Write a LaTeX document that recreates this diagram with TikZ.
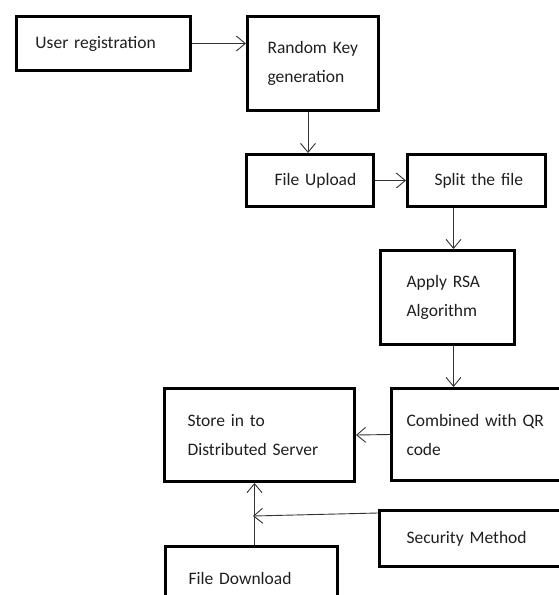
\documentclass[tikz,border=0pt]{standalone}
\usepackage{fontspec}
\setmainfont{Carlito}
\usetikzlibrary{arrows.meta}
\begin{document}
\begin{tikzpicture}[x=1pt,y=-1pt,
  box/.style={draw=black, line width=3pt, rectangle, anchor=north west, align=left,
    inner ysep=0pt, inner xsep=1pt, font=\fontsize{17.5}{29}\selectfont, text=black!88},
  ind/.style={execute at begin node={\leftskip=#1\relax\hyphenpenalty=10000\relax}},
  arr/.style={draw=black!80, line width=0.9pt, -{Straight Barb[length=9pt,width=15pt,line width=0.9pt]}}]
\useasboundingbox (0,0) rectangle (559,595);
\clip (0,0) rectangle (559,595);
\node[box, minimum width=174pt, minimum height=54pt, ind=17pt, text width=170pt] (u) at (15,15) {User registration};
\node[box, minimum width=131pt, minimum height=94pt, ind=18pt, text width=127pt] (rk) at (246,15) {Random Key\\generation};
\node[box, minimum width=127pt, minimum height=52pt, ind=26pt, text width=123pt] (fu) at (245,153) {File Upload};
\node[box, minimum width=138pt, minimum height=52pt, ind=25pt, text width=134pt] (sp) at (406,153) {Split the file};
\node[box, minimum width=134pt, minimum height=94pt, ind=24pt, text width=130pt] (rsa) at (379,249) {Apply RSA\\Algorithm};
\node[box, minimum width=200pt, minimum height=92pt, ind=13pt, text width=196pt] (comb) at (390,387) {Combined with QR\\code};
\node[box, minimum width=190pt, minimum height=93pt, ind=21pt, text width=186pt] (store) at (163,387) {Store in to\\Distributed Server};
\node[box, minimum width=212pt, minimum height=56pt, ind=25pt, text width=208pt] (sec) at (378,509) {Security Method};
\node[box, minimum width=172pt, minimum height=64pt, ind=21pt, text width=168pt] (dl) at (164,545) {File Download};
\coordinate (m) at (253,516);
\draw[arr] (u.east) -- (u.east -| rk.west);
\draw[arr] ([xshift=-5pt]rk.south) -- ([xshift=-2pt]fu.north);
\draw[arr] (fu.east) -- (sp.west);
\draw[arr] ([xshift=6pt]rsa.north |- sp.south) -- ([xshift=6pt]rsa.north);
\draw[arr] ([xshift=6pt]rsa.south) -- ([xshift=6pt]rsa.south |- comb.north);
\draw[arr] (comb.west) -- (store.east);
\draw[arr] ([yshift=-4pt]sec.north west) -- (m);
\draw[arr] ([xshift=3pt]dl.north) -- ([xshift=3pt]dl.north |- store.south);
\end{tikzpicture}
\end{document}
